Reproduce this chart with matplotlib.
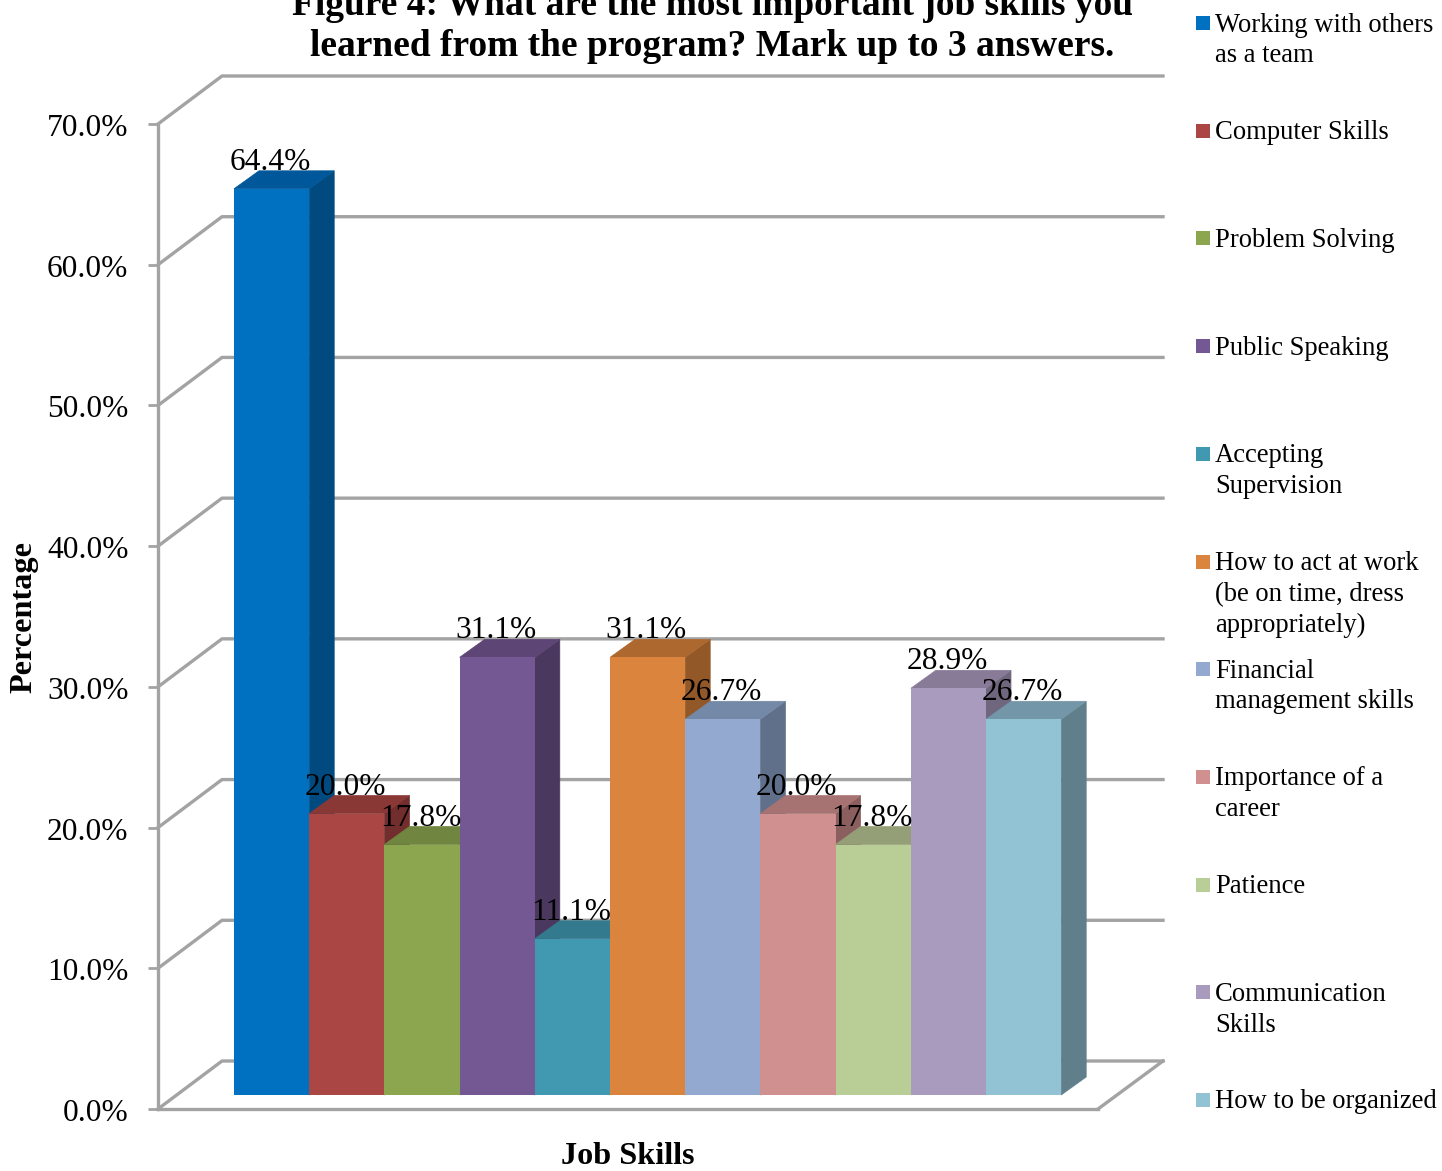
import matplotlib
matplotlib.use('Agg')
import matplotlib.pyplot as plt
from matplotlib.patches import Rectangle
from matplotlib.transforms import ScaledTranslation

plt.rcParams['font.family'] = ['Liberation Serif', 'DejaVu Serif']

skills = ['Working with others\nas a team', 'Computer Skills', 'Problem Solving', 'Public Speaking',
          'Accepting\nSupervision', 'How to act at work\n(be on time, dress\nappropriately)',
          'Financial\nmanagement skills', 'Importance of a\ncareer', 'Patience',
          'Communication\nSkills', 'How to be organized']
values = [64.4, 20.0, 17.8, 31.1, 11.1, 31.1, 26.7, 20.0, 17.8, 28.9, 26.7]
front_colors = ['#0070c0', '#aa4643', '#8ca64f', '#735893', '#4198b1', '#db843d',
                '#93a9cf', '#d09090', '#b9cd96', '#a99bbd', '#92c3d4']
side_colors = ['#004a80', '#722e2c', '#5d6f34', '#4b385f', '#2b6576', '#935827',
               '#606f8a', '#8c5f5f', '#7b8964', '#70677e', '#607f8b']
top_colors = ['#00589a', '#8a3836', '#70853f', '#5d4676', '#347a8e', '#ad6830',
              '#7489a8', '#a77272', '#949f78', '#887b98', '#7397a8']
yticks = [0, 10, 20, 30, 40, 50, 60, 70]

W, H = 1442, 1171
fig = plt.figure(figsize=(W / 100, H / 100), dpi=100)
ax = fig.add_axes([158 / W, 1 - 1109 / H, 940 / W, 985 / H])

# scale of the axes, px per unit
px_x = 75.2
px_y = 985 / 70
x0 = -0.5 - (234 - 158) / px_x
ax.set_xlim(x0, x0 + 940 / px_x)
ax.set_ylim(0, 70)

# depth of the 3d box and of the bars
wall_dx = 64 / px_x
wall_dy = 48 / px_y
bar_dx = 25 / px_x
bar_dy = 18 / px_y
base = 14 / px_y
grid = '#a3a3a3'
wall_right = x0 + 1005 / px_x

for t in yticks:
    ax.plot([x0, x0 + wall_dx, wall_right], [t, t + wall_dy, t + wall_dy],
            color=grid, lw=2.4, clip_on=False, zorder=1, solid_joinstyle='round')
# right edge of the floor
ax.plot([x0 + 940 / px_x, wall_right], [0, wall_dy], color=grid, lw=2.4, clip_on=False, zorder=1)

for i, v in enumerate(values):
    l, r = i - 0.5, i + 0.5
    top = v + base
    z = 2 + i
    ax.fill([r, r + bar_dx, r + bar_dx, r], [base, base + bar_dy, top + bar_dy, top],
            fc=side_colors[i], ec=side_colors[i], lw=0.5, zorder=z, clip_on=False)
    ax.fill([l, l + bar_dx, r + bar_dx, r], [top, top + bar_dy, top + bar_dy, top],
            fc=top_colors[i], ec=top_colors[i], lw=0.5, zorder=z, clip_on=False)
    ax.bar(i, v, width=1, bottom=base, color=front_colors[i], lw=0, zorder=z + 0.5)
for i, v in enumerate(values):
    ax.text(i - 0.02, v + base + 0.85, f'{v:.1f}%', ha='center', va='bottom', fontsize=22.6,
            color='black', zorder=30, clip_on=False)

for s in ['top', 'right']:
    ax.spines[s].set_visible(False)
for s in ['left', 'bottom']:
    ax.spines[s].set_color(grid)
    ax.spines[s].set_linewidth(2.4)
    ax.spines[s].set_zorder(1)
ax.set_xticks([])
ax.set_yticks(yticks, [f'{t:.1f}%' for t in yticks])
ax.tick_params(axis='y', length=7, width=2, color=grid, labelsize=22.6, pad=14.3)
# tick labels sit a pixel lower in the original
for lab in ax.get_yticklabels():
    lab.set_transform(lab.get_transform() + ScaledTranslation(0, -1 / 100, fig.dpi_scale_trans))
ax.set_facecolor('none')

fig.text(712 / W, 1 - 26 / H, 'Figure 4: What are the most important job skills you\nlearned from the program? Mark up to 3 answers.',
         ha='center', va='center', fontsize=26.9, fontweight='bold', linespacing=1.24)
fig.text(628 / W, 1 - 1157 / H, 'Job Skills', ha='center', va='center', fontsize=23.2, fontweight='bold')
fig.text(24 / W, 1 - 617 / H, 'Percentage', ha='center', va='center', rotation=90, fontsize=23.2, fontweight='bold')

for i, name in enumerate(skills):
    y = 23 + i * 107.7
    fig.add_artist(Rectangle((1196 / W, 1 - (y + 7) / H), 14 / W, 14 / H, color=front_colors[i],
                             lw=0, transform=fig.transFigure))
    fig.text(1215 / W, 1 - (y - 10.5) / H, name, ha='left', va='top', fontsize=19.15, linespacing=1.3)

fig.savefig('out.png', dpi=100)
